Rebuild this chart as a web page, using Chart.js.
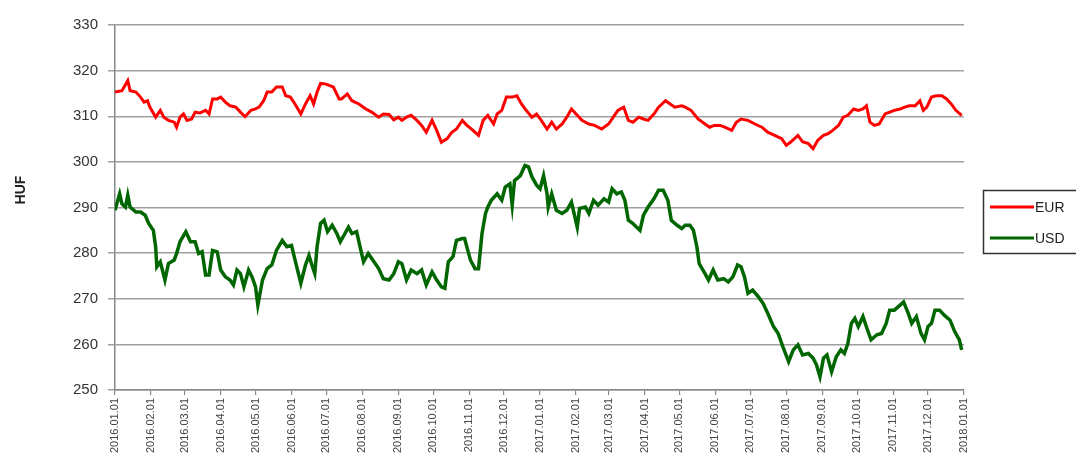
<!DOCTYPE html>
<html>
<head>
<meta charset="utf-8">
<script src="https://cdn.jsdelivr.net/npm/chart.js@4/dist/chart.umd.min.js"></script>
<style>
  html, body { margin: 0; padding: 0; background: #fff; }
  #c { display: block; }
</style>
</head>
<body>
<canvas id="c" width="1076" height="454"></canvas>
<script>
// Day offsets since 2016-01-01 and HUF values
const eurDays = [0,6,11,13,18,22,25,28,30,35,39,42,46,51,53,56,59,62,66,69,73,78,81,84,88,91,95,99,104,108,112,117,121,124,128,131,135,139,144,147,151,155,160,164,168,171,174,177,181,185,188,193,195,200,204,210,216,221,227,231,236,240,244,
247,251,255,260,264,268,273,277,281,286,290,294,299,303,307,313,317,321,326,329,333,337,342,346,350,354,359,363,367,372,376,380,385,389,393,398,402,408,413,419,425,429,433,438,442,446,451,455,459,464,468,474,478,482,488,
491,496,502,508,512,516,521,525,531,535,539,545,551,557,562,568,574,578,582,588,592,597,601,605,610,614,618,623,627,631,636,640,644,647,650,654,658,663,667,671,676,680,684,689,693,696,699,703,707,712,716,720,724,729];
const eurValues = [315.3,315.6,317.8,315.6,315.3,314.2,313.1,313.4,312.0,309.8,311.3,309.8,309.1,308.7,307.6,309.8,310.5,309.1,309.4,310.9,310.7,311.3,310.5,313.8,313.8,314.2,313.1,312.3,312.0,310.9,309.9,311.3,311.6,312.0,313.4,315.3,315.3,316.4,316.4,314.5,314.2,312.7,310.5,312.7,314.5,312.7,315.3,317.2,317.1,316.7,316.4,313.8,313.8,314.9,313.4,312.7,311.6,310.9,309.8,310.5,310.4,309.2,309.8,
309.1,309.8,310.2,309.1,308.0,306.5,309.1,306.9,304.3,305.1,306.5,307.2,309.1,308.0,307.2,305.8,309.1,310.2,308.3,310.5,311.3,314.2,314.2,314.5,312.7,311.3,309.8,310.5,309.1,307.2,308.7,307.2,308.3,309.8,311.6,310.2,309.1,308.3,308.0,307.2,308.3,309.8,311.3,312.0,309.1,308.7,309.8,309.4,309.1,310.5,312.0,313.4,312.7,312.0,312.3,
312.0,311.3,309.4,308.3,307.6,308.0,308.0,307.6,306.9,308.7,309.4,309.1,308.3,307.6,306.5,305.8,305.1,303.6,304.4,305.8,304.4,304.0,302.9,304.7,305.8,306.2,306.9,308.0,309.8,310.2,311.6,311.3,311.6,312.3,308.7,308.0,308.3,310.5,310.9,311.3,311.6,312.0,312.3,312.3,313.4,311.3,312.0,314.2,314.5,314.5,313.8,312.7,311.3,310.2];

const usdDays = [0,4,6,9,11,13,18,22,26,29,33,35,36,39,43,46,51,53,56,61,65,69,72,75,78,81,84,88,91,95,99,102,105,108,111,115,118,121,123,127,131,135,139,144,148,152,155,160,164,167,170,172,174,177,180,183,187,191,194,198,201,204,208,211,214,218,223,227,231,236,240,244,
247,251,255,260,264,268,273,277,281,284,287,291,294,299,301,306,310,313,316,319,321,324,329,333,336,340,342,344,349,353,356,359,363,366,369,372,373,376,380,385,389,393,398,400,405,408,412,416,421,425,428,432,436,439,442,446,449,452,455,459,464,468,472,476,479,484,488,
491,495,498,501,503,508,511,515,519,524,528,532,536,539,542,545,549,554,558,562,567,571,575,580,584,588,592,597,601,604,607,610,613,617,621,625,628,631,634,637,640,644,648,651,656,660,664,667,671,676,679,683,686,690,694,697,700,703,706,710,714,719,723,727,729];
const usdValues = [289.4,293.0,290.8,290.1,292.7,290.1,289.0,289.0,288.3,286.5,285.0,281.4,277.0,278.1,274.1,277.7,278.5,279.9,282.5,284.7,282.5,282.5,279.9,280.3,275.2,275.2,280.6,280.3,276.3,274.8,274.1,273.0,276.3,275.5,272.6,276.3,274.8,272.6,268.6,274.1,276.6,277.4,280.6,282.8,281.4,281.7,278.5,273.4,277.4,279.5,277.0,275.5,281.4,286.5,287.2,284.7,286.1,284.3,282.5,284.3,285.7,284.3,284.7,281.4,278.1,279.9,278.1,276.6,274.4,274.1,275.5,278.1,
277.7,274.1,276.3,275.5,276.3,273.0,275.9,274.1,272.6,272.3,278.1,279.2,282.8,283.2,283.2,278.5,276.6,276.6,284.3,288.7,290.1,291.6,293.0,291.6,294.5,295.2,290.5,295.9,297.0,299.2,298.9,296.7,294.9,294.1,297.0,293.0,290.1,293.0,289.4,288.7,289.4,291.2,285.7,289.8,290.1,288.7,291.6,290.5,291.9,291.2,294.1,293.0,293.4,291.6,287.2,286.5,285.7,285.0,288.3,290.1,291.9,293.8,293.8,291.6,287.2,286.1,285.4,
286.1,286.1,285.0,281.4,277.7,275.5,274.1,276.3,274.1,274.4,273.7,274.8,277.4,277.0,274.8,271.2,271.9,270.4,269.0,266.8,263.9,262.4,259.5,256.2,258.8,259.9,257.7,258.0,257.0,255.5,252.9,257.0,257.7,254.0,257.3,258.8,258.0,260.2,264.6,265.7,263.9,266.1,263.1,261.0,262.1,262.4,264.6,267.5,267.5,268.6,269.3,266.8,264.6,266.1,262.4,261.0,263.9,264.6,267.5,267.5,266.4,265.3,262.8,261.0,258.8];

const tickDays = [0,31,60,91,121,152,182,213,244,274,305,335,366,397,425,456,486,517,547,578,609,639,670,700,731];
const tickLabels = ['2016.01.01','2016.02.01','2016.03.01','2016.04.01','2016.05.01','2016.06.01','2016.07.01','2016.08.01','2016.09.01','2016.10.01','2016.11.01','2016.12.01',
  '2017.01.01','2017.02.01','2017.03.01','2017.04.01','2017.05.01','2017.06.01','2017.07.01','2017.08.01','2017.09.01','2017.10.01','2017.11.01','2017.12.01','2018.01.01'];

const seriesNames = ['EUR', 'USD'];
const yAxisTitle = 'HUF';

const toPoints = (days, vals) => days.map((d, i) => ({ x: d, y: vals[i] }));

const extras = {
  id: 'extras',
  afterDraw(chart) {
    const ctx = chart.ctx;
    ctx.save();
    ctx.translate(21, 190);
    ctx.rotate(-Math.PI / 2);
    ctx.font = 'bold 14px "Liberation Sans", Arial, sans-serif';
    ctx.fillStyle = '#222';
    ctx.textAlign = 'center';
    ctx.textBaseline = 'middle';
    ctx.fillText(yAxisTitle, 0, 0);
    ctx.restore();

    ctx.save();
    ctx.strokeStyle = '#333';
    ctx.lineWidth = 1.5;
    ctx.strokeRect(983.5, 190.5, 100, 63);
    ctx.font = '14px "Liberation Sans", Arial, sans-serif';
    ctx.textBaseline = 'middle';
    ctx.textAlign = 'left';
    const ys = [207, 238];
    chart.data.datasets.forEach((ds, i) => {
      ctx.strokeStyle = ds.borderColor;
      ctx.lineWidth = 3;
      ctx.beginPath();
      ctx.moveTo(990, ys[i]);
      ctx.lineTo(1034, ys[i]);
      ctx.stroke();
      ctx.fillStyle = '#222';
      ctx.fillText(ds.label, 1035, ys[i] + 1);
    });
    ctx.restore();
  }
};

new Chart(document.getElementById('c'), {
  type: 'line',
  data: {
    datasets: [
      { label: seriesNames[0], data: toPoints(eurDays, eurValues), borderColor: '#ff0000', borderWidth: 3, pointRadius: 0, fill: false, tension: 0 },
      { label: seriesNames[1], data: toPoints(usdDays, usdValues), borderColor: '#006600', borderWidth: 3.5, pointRadius: 0, fill: false, tension: 0 }
    ]
  },
  options: {
    responsive: false,
    animation: false,
    devicePixelRatio: 1,
    layout: { padding: { left: 0, right: 112, top: 25, bottom: 0 } },
    plugins: { legend: { display: false }, tooltip: { enabled: false } },
    scales: {
      x: {
        type: 'linear', min: 0, max: 731,
        afterBuildTicks: s => { s.ticks = tickDays.map(v => ({ value: v })); },
        afterFit: s => { s.height = 64; },
        ticks: {
          autoSkip: false, maxRotation: 90, minRotation: 90, padding: 3,
          callback: (v, i) => tickLabels[i],
          font: { family: '"Liberation Sans", Arial, sans-serif', size: 11 },
          color: '#444'
        },
        grid: { drawOnChartArea: false, drawTicks: true, tickLength: 5, color: '#888', lineWidth: 1.2 },
        border: { color: '#888', width: 1.5 }
      },
      y: {
        min: 250, max: 330,
        afterFit: s => { s.width = 115; },
        ticks: {
          stepSize: 10, padding: 10,
          font: { family: '"Liberation Sans", Arial, sans-serif', size: 15 },
          color: '#333'
        },
        grid: { color: '#a0a0a0', lineWidth: 1.5, tickLength: 7 },
        border: { color: '#888', width: 1.5 }
      }
    }
  },
  plugins: [extras]
});
</script>
</body>
</html>
